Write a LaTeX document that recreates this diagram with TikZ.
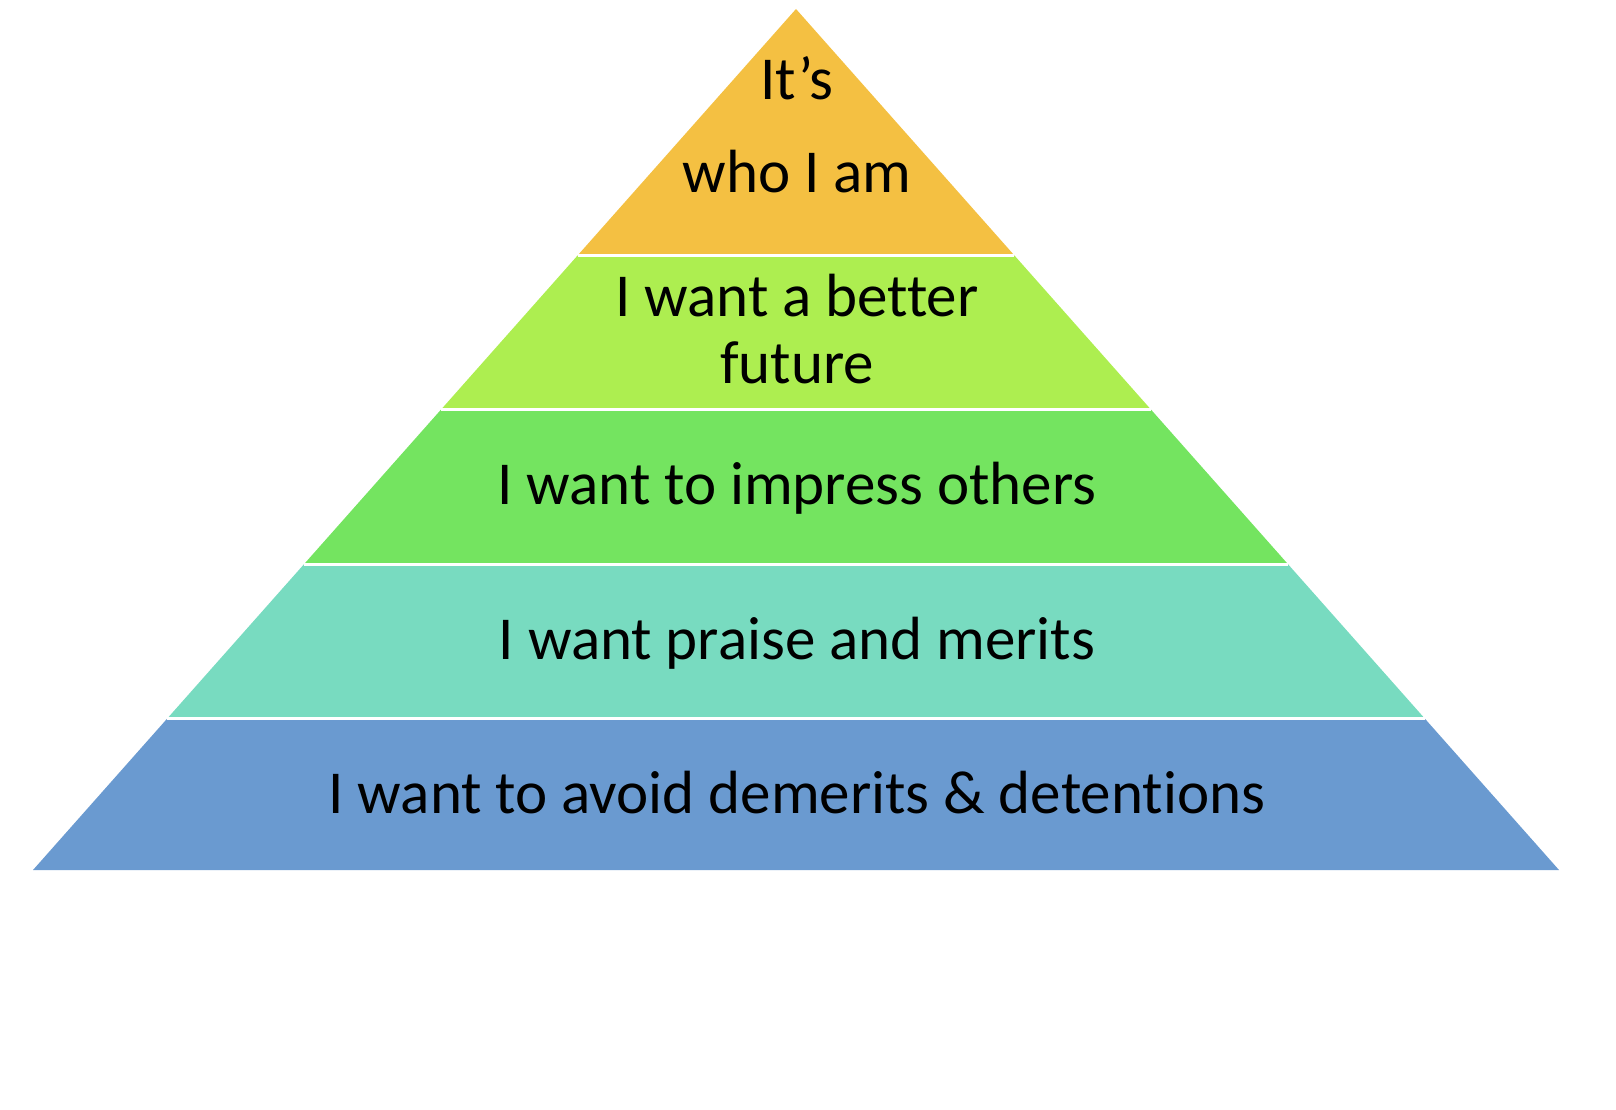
\documentclass[tikz,border=0pt]{standalone}
\usepackage{fontspec}
\setmainfont[Ligatures={NoCommon}]{Carlito}
\usetikzlibrary{calc}
\definecolor{cTop}{RGB}{244,192,66}
\definecolor{cLime}{RGB}{173,238,80}
\definecolor{cGreen}{RGB}{116,228,96}
\definecolor{cTeal}{RGB}{120,219,192}
\definecolor{cBlue}{RGB}{106,154,208}
\tikzset{
  lbl/.style={anchor=base, inner sep=0pt, text=black, font=\fontsize{61}{72}\selectfont},
  gap/.style={draw=white, line width=2.6pt}
}
\begin{document}
\begin{tikzpicture}[x=1pt,y=-1pt]
\useasboundingbox (0,0) rectangle (1616,1110);
\coordinate (apex) at (796,9);
\coordinate (bl) at (33,870);
\coordinate (br) at (1559,870);
\coordinate (l1) at ($(apex)!0.2863!(bl)$);
\coordinate (r1) at ($(apex)!0.2863!(br)$);
\coordinate (l2) at ($(apex)!0.4652!(bl)$);
\coordinate (r2) at ($(apex)!0.4652!(br)$);
\coordinate (l3) at ($(apex)!0.6452!(bl)$);
\coordinate (r3) at ($(apex)!0.6452!(br)$);
\coordinate (l4) at ($(apex)!0.8240!(bl)$);
\coordinate (r4) at ($(apex)!0.8240!(br)$);
\fill[cTop] (apex) -- (r1) -- (l1) -- cycle;
\fill[cLime] (l1) -- (r1) -- (r2) -- (l2) -- cycle;
\fill[cGreen] (l2) -- (r2) -- (r3) -- (l3) -- cycle;
\fill[cTeal] (l3) -- (r3) -- (r4) -- (l4) -- cycle;
\fill[cBlue] (l4) -- (r4) -- (br) -- (bl) -- cycle;
\draw[gap] (l1) -- (r1);
\draw[gap] (l2) -- (r2);
\draw[gap] (l3) -- (r3);
\draw[gap] (l4) -- (r4);
\node[lbl] (t1a) at (797,100) {It’s};
\node[lbl] (t1b) at (797,193) {who I am};
\node[lbl] (t2a) at (797,316) {I want a better};
\node[lbl] (t2b) at (797,383) {future};
\node[lbl] (t3) at (797,504) {I want to impress others};
\node[lbl] (t4) at (797,659) {I want praise and merits};
\node[lbl] (t5) at (797,813) {I want to avoid demerits \& detentions};
\end{tikzpicture}
\end{document}
